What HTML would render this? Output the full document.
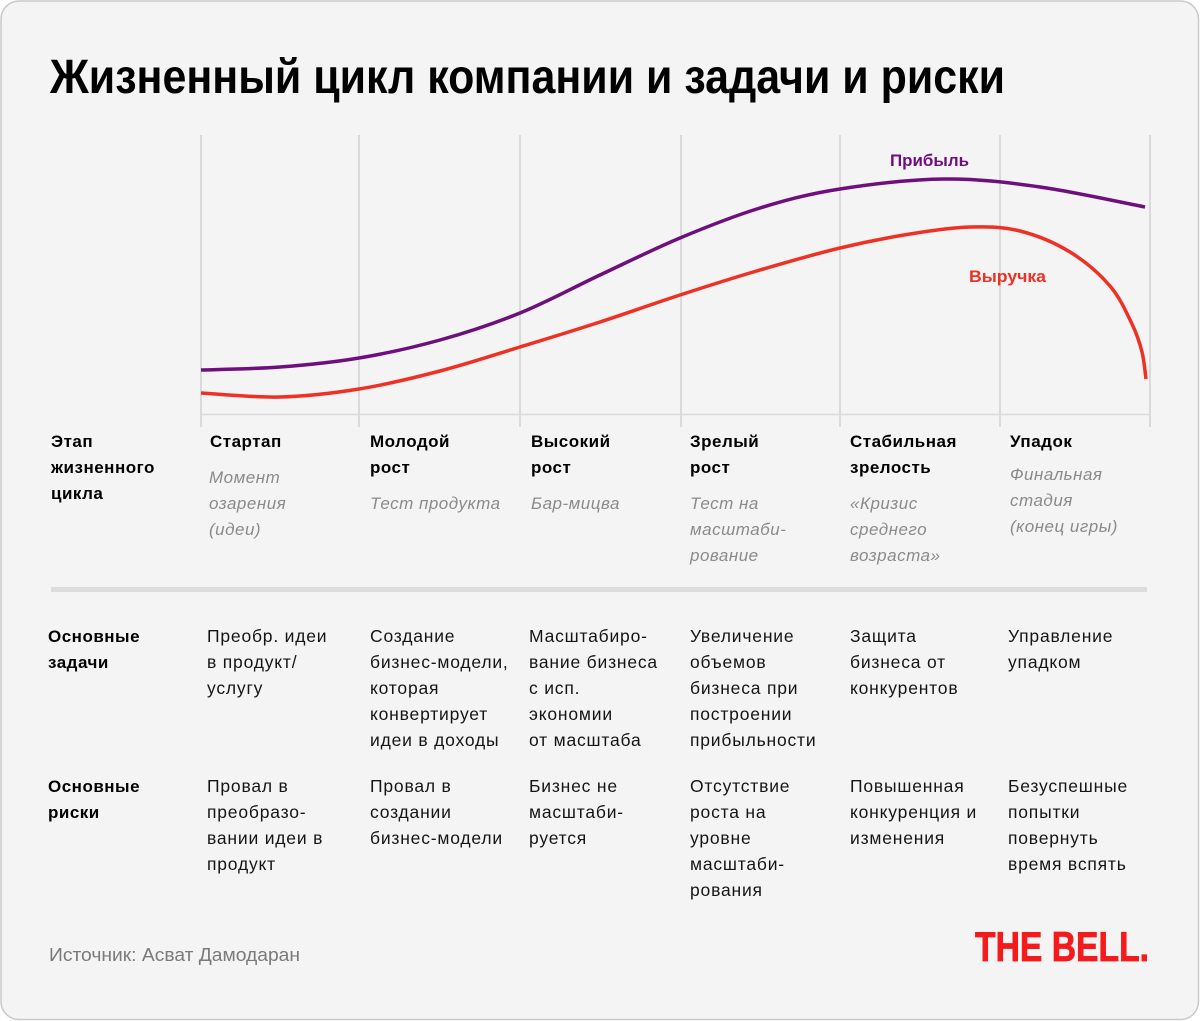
<!DOCTYPE html>
<html><head><meta charset="utf-8">
<style>
html,body{margin:0;padding:0;background:#fff;}
svg{display:block;}
text{font-family:"Liberation Sans","DejaVu Sans",sans-serif;}
.h{font-weight:bold;font-size:17px;fill:#000;letter-spacing:0.5px;}
.i{font-style:italic;font-size:17px;fill:#8a8a8a;letter-spacing:0.5px;}
.t{font-size:17.5px;fill:#151515;letter-spacing:0.8px;}
</style></head>
<body>
<svg width="1200" height="1021" viewBox="0 0 1200 1021" xmlns="http://www.w3.org/2000/svg">
<rect x="1" y="1" width="1197.5" height="1018.5" rx="18" ry="18" fill="#f4f4f4" stroke="#c9c9c9" stroke-width="1.5"/>

<text x="50" y="93" font-size="48" font-weight="bold" fill="#000" textLength="955" lengthAdjust="spacingAndGlyphs">Жизненный цикл компании и задачи и риски</text>

<!-- grid -->
<g stroke="#d2d2d2" stroke-width="1.5">
<line x1="201" y1="135" x2="201" y2="427"/>
<line x1="359" y1="135" x2="359" y2="427"/>
<line x1="520" y1="135" x2="520" y2="427"/>
<line x1="681" y1="135" x2="681" y2="427"/>
<line x1="840" y1="135" x2="840" y2="427"/>
<line x1="1000" y1="135" x2="1000" y2="427"/>
<line x1="1150" y1="135" x2="1150" y2="427"/>
</g>
<line x1="201" y1="414.5" x2="1150" y2="414.5" stroke="#dadada" stroke-width="1.5"/>

<!-- Прибыль -->
<path fill="none" stroke="#6f0f7d" stroke-width="3.5" d="M201,370 C214.2,369.5 253.7,369 280,367 C306.3,365 332.3,362.5 359,358 C385.7,353.5 413.2,347.5 440,340 C466.8,332.5 493.3,323.8 520,313 C546.7,302.2 573.3,287.5 600,275 C626.7,262.5 653.3,249.2 680,238 C706.7,226.8 733.3,216.2 760,208 C786.7,199.8 809.2,193.8 840,189 C870.8,184.2 911.7,179.3 945,179 C978.3,178.7 1006.7,182.3 1040,187 C1073.3,191.7 1127.5,203.7 1145,207"/>

<!-- Выручка -->
<path fill="none" stroke="#ee3124" stroke-width="3.5" d="M201,393 C214.2,393.7 253.7,397.7 280,397 C306.3,396.3 332.3,393.3 359,389 C385.7,384.7 413.2,378 440,371 C466.8,364 493.3,355.2 520,347 C546.7,338.8 573.3,330.7 600,322 C626.7,313.3 653.3,303.7 680,295 C706.7,286.3 733.3,277.8 760,270 C786.7,262.2 815,254 840,248 C865,242 888.3,237.5 910,234 C931.7,230.5 951.7,227.5 970,227 C988.3,226.5 1003.3,226.8 1020,231 C1036.7,235.2 1055,242.8 1070,252 C1085,261.2 1099.7,274 1110,286 C1120.3,298 1126.7,313 1132,324 C1137.3,335 1139.7,342.8 1142,352 C1144.3,361.2 1145.3,374.5 1146,379"/>

<text x="890" y="166" font-size="17" font-weight="bold" fill="#6f0f7d" textLength="79" lengthAdjust="spacingAndGlyphs">Прибыль</text>
<text x="969" y="282" font-size="17" font-weight="bold" fill="#ee3124" textLength="77" lengthAdjust="spacingAndGlyphs">Выручка</text>

<!-- stage header -->
<text class="h" x="51" y="447">Этап<tspan x="51" dy="26">жизненного</tspan><tspan x="51" dy="26">цикла</tspan></text>
<text class="h" x="210" y="447">Стартап</text>
<text class="h" x="370" y="447">Молодой<tspan x="370" dy="26">рост</tspan></text>
<text class="h" x="531" y="447">Высокий<tspan x="531" dy="26">рост</tspan></text>
<text class="h" x="690" y="447">Зрелый<tspan x="690" dy="26">рост</tspan></text>
<text class="h" x="850" y="447">Стабильная<tspan x="850" dy="26">зрелость</tspan></text>
<text class="h" x="1010" y="447">Упадок</text>

<text class="i" x="209" y="483">Момент<tspan x="209" dy="26">озарения</tspan><tspan x="209" dy="26">(идеи)</tspan></text>
<text class="i" x="370" y="509">Тест продукта</text>
<text class="i" x="531" y="509">Бар-мицва</text>
<text class="i" x="690" y="509">Тест на<tspan x="690" dy="26">масштаби-</tspan><tspan x="690" dy="26">рование</tspan></text>
<text class="i" x="850" y="509">«Кризис<tspan x="850" dy="26">среднего</tspan><tspan x="850" dy="26">возраста»</tspan></text>
<text class="i" x="1010" y="480">Финальная<tspan x="1010" dy="26">стадия</tspan><tspan x="1010" dy="26">(конец игры)</tspan></text>

<rect x="51" y="587" width="1096" height="5" fill="#dcdcdc"/>

<!-- tasks -->
<text class="h" x="48" y="642">Основные<tspan x="48" dy="26">задачи</tspan></text>
<text class="t" x="207" y="642">Преобр. идеи<tspan x="207" dy="26">в продукт/</tspan><tspan x="207" dy="26">услугу</tspan></text>
<text class="t" x="370" y="642">Создание<tspan x="370" dy="26">бизнес-модели,</tspan><tspan x="370" dy="26">которая</tspan><tspan x="370" dy="26">конвертирует</tspan><tspan x="370" dy="26">идеи в доходы</tspan></text>
<text class="t" x="529" y="642">Масштабиро-<tspan x="529" dy="26">вание бизнеса</tspan><tspan x="529" dy="26">с исп.</tspan><tspan x="529" dy="26">экономии</tspan><tspan x="529" dy="26">от масштаба</tspan></text>
<text class="t" x="690" y="642">Увеличение<tspan x="690" dy="26">объемов</tspan><tspan x="690" dy="26">бизнеса при</tspan><tspan x="690" dy="26">построении</tspan><tspan x="690" dy="26">прибыльности</tspan></text>
<text class="t" x="850" y="642">Защита<tspan x="850" dy="26">бизнеса от</tspan><tspan x="850" dy="26">конкурентов</tspan></text>
<text class="t" x="1008" y="642">Управление<tspan x="1008" dy="26">упадком</tspan></text>

<!-- risks -->
<text class="h" x="48" y="792">Основные<tspan x="48" dy="26">риски</tspan></text>
<text class="t" x="207" y="792">Провал в<tspan x="207" dy="26">преобразо-</tspan><tspan x="207" dy="26">вании идеи в</tspan><tspan x="207" dy="26">продукт</tspan></text>
<text class="t" x="370" y="792">Провал в<tspan x="370" dy="26">создании</tspan><tspan x="370" dy="26">бизнес-модели</tspan></text>
<text class="t" x="529" y="792">Бизнес не<tspan x="529" dy="26">масштаби-</tspan><tspan x="529" dy="26">руется</tspan></text>
<text class="t" x="690" y="792">Отсутствие<tspan x="690" dy="26">роста на</tspan><tspan x="690" dy="26">уровне</tspan><tspan x="690" dy="26">масштаби-</tspan><tspan x="690" dy="26">рования</tspan></text>
<text class="t" x="850" y="792">Повышенная<tspan x="850" dy="26">конкуренция и</tspan><tspan x="850" dy="26">изменения</tspan></text>
<text class="t" x="1008" y="792">Безуспешные<tspan x="1008" dy="26">попытки</tspan><tspan x="1008" dy="26">повернуть</tspan><tspan x="1008" dy="26">время вспять</tspan></text>

<!-- footer -->
<text x="49" y="961" font-size="18.5" fill="#7a7a7a" textLength="251" lengthAdjust="spacingAndGlyphs">Источник: Асват Дамодаран</text>
<text x="975" y="961" font-size="42" font-weight="bold" fill="#f51a1c" stroke="#f51a1c" stroke-width="0.8" textLength="174" lengthAdjust="spacingAndGlyphs">THE BELL.</text>
</svg>
</body></html>
